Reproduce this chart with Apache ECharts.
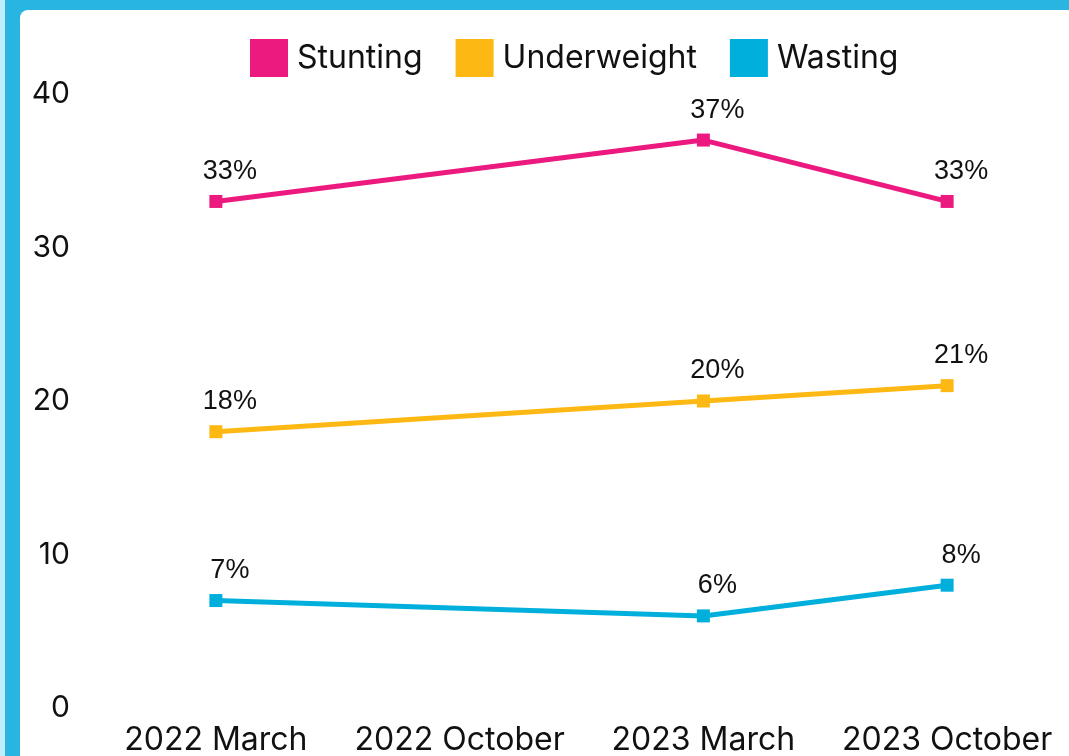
<!DOCTYPE html>
<html lang="en">
<head>
    <meta charset="UTF-8">
    <title>Malnutrition trend</title>
    <script src="https://cdn.jsdelivr.net/npm/echarts@6/dist/echarts.min.js"></script>
    <style>
        html,body{margin:0;padding:0;width:1069px;height:756px;overflow:hidden;}
        body{background:#29b5e2;position:relative;}
        #strip{position:absolute;left:0;top:0;width:5px;height:756px;background:#bdeefc;}
        #main{position:absolute;left:20px;top:10px;width:1049px;height:746px;background:#fff;border-top-left-radius:8px;}
    </style>
</head>
<body>
<div id="strip"></div>
<div id="main"></div>
<script>
    // values, null = no survey in that round
    var categories=['2022 March','2022 October','2023 March','2023 October'];
    var stunting=[33,null,37,33];
    var underweight=[18,null,20,21];
    var wasting=[7,null,6,8];
    var yTicks=[0,10,20,30,40];

    var colors=['#ec1a7f','#fdb813','#00afdc'];

    function mkSeries(name,data){
        return {
            name:name,
            type:'line',
            data:data,
            connectNulls:true,
            symbol:'rect',
            symbolSize:13,
            lineStyle:{width:5},
            label:{
                show:true,
                position:'top',
                distance:10,
                offset:[14,0],
                formatter:'{c}%',
                color:'#111',
                fontFamily:'Liberation Sans',
                fontSize:27
            }
        };
    }

    var myChart=echarts.init(document.getElementById('main'));
    var option={
        animation:false,
        color:colors,
        legend:{
            left:225,
            top:24,
            icon:'rect',
            itemWidth:38,
            itemHeight:38,
            itemGap:33,
            textStyle:{fontFamily:'Inter',fontSize:32,color:'#111',padding:[0,0,0,4]}
        },
        grid:{left:74,right:0,top:84,bottom:46,containLabel:false},
        xAxis:{
            type:'category',
            data:categories,
            boundaryGap:true,
            axisLine:{show:false},
            axisTick:{show:false},
            axisLabel:{fontFamily:'Inter',fontSize:32,color:'#111',margin:16,interval:0}
        },
        yAxis:{
            type:'value',
            min:yTicks[0],
            max:yTicks[yTicks.length-1],
            interval:10,
            splitLine:{show:false},
            axisLine:{show:false},
            axisTick:{show:false},
            axisLabel:{fontFamily:'Inter',fontSize:30,color:'#111',margin:24,padding:[4,0,0,0]}
        },
        series:[
            mkSeries('Stunting',stunting),
            mkSeries('Underweight',underweight),
            mkSeries('Wasting',wasting)
        ]
    };
    myChart.setOption(option);
</script>
</body>
</html>
